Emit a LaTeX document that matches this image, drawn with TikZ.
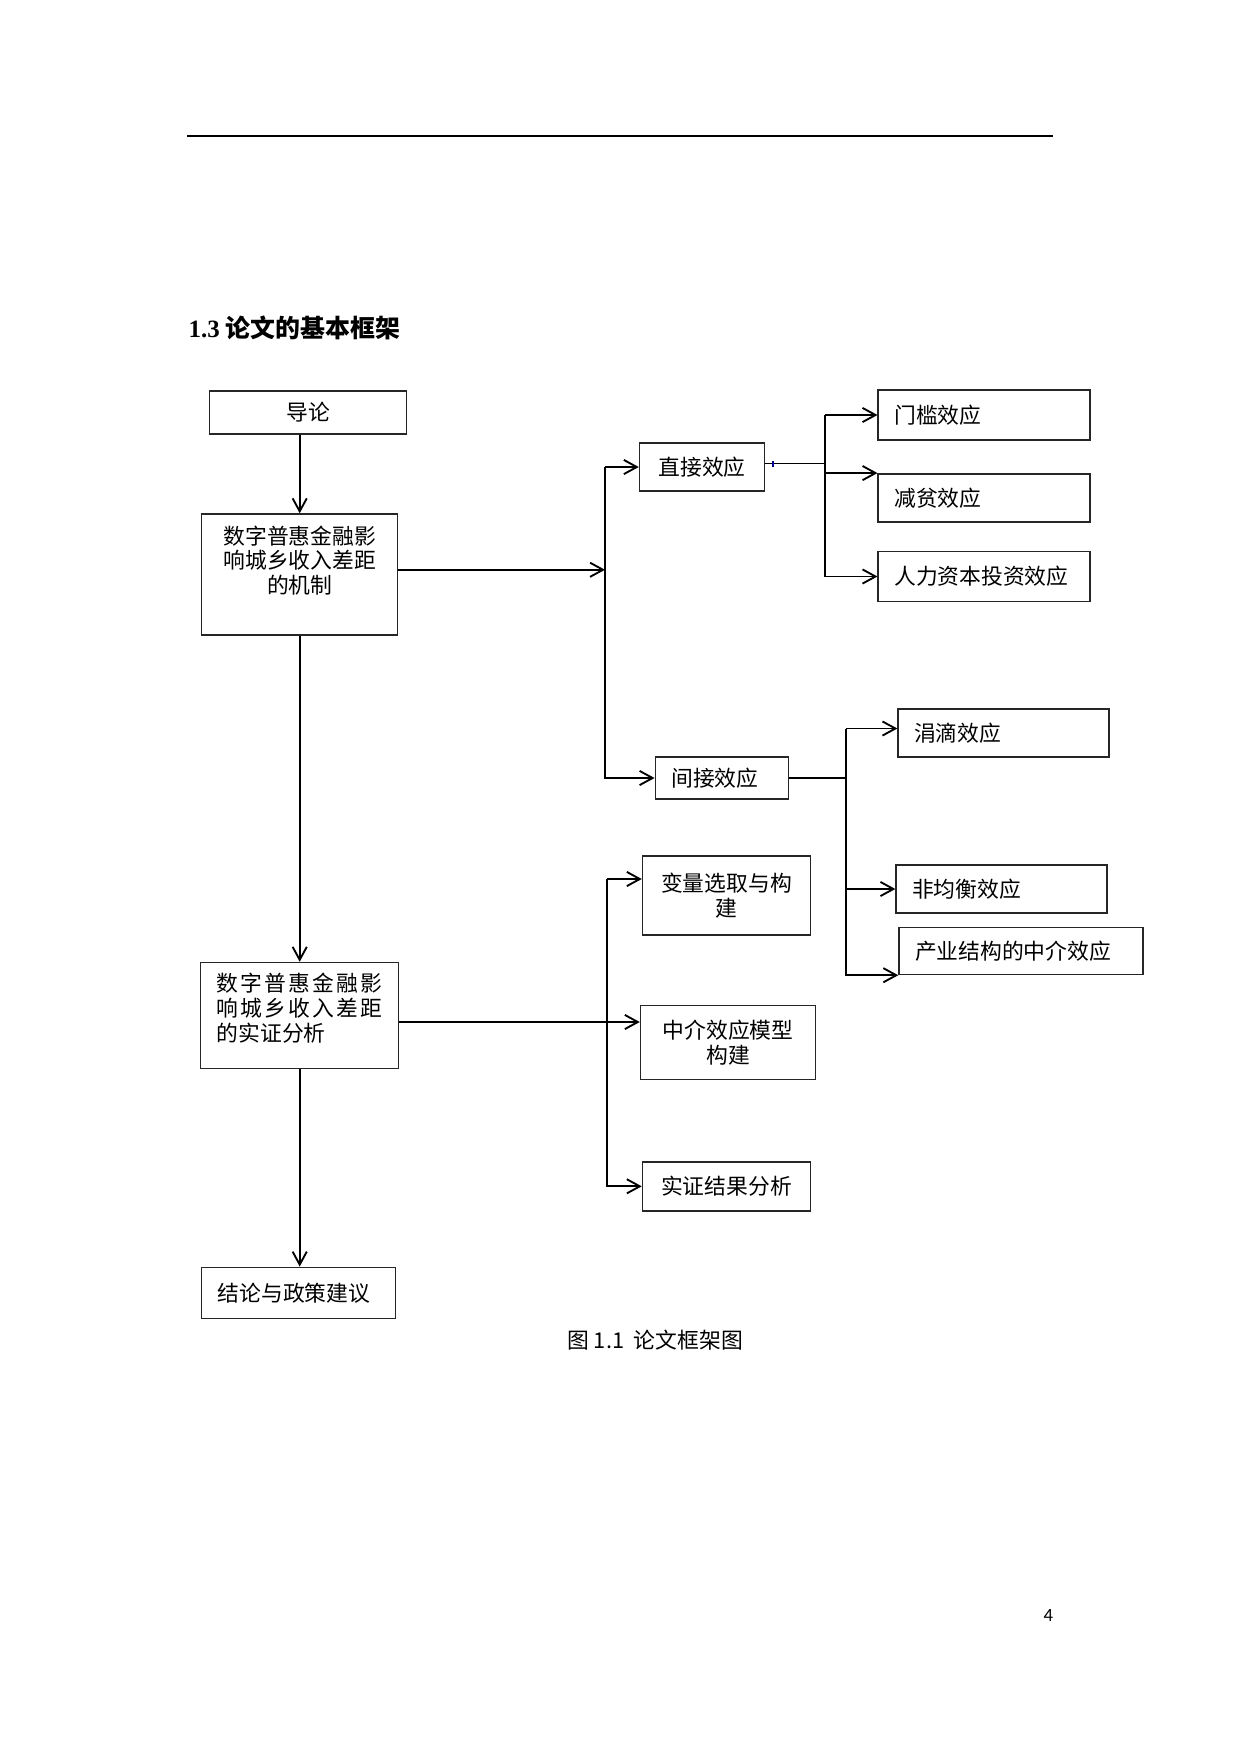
\documentclass[tikz,border=0pt]{standalone}
\usepackage{fontspec}
\setmainfont{Liberation Serif}
\newfontfamily\cjk{Noto Sans CJK SC}
\newfontfamily\pagefont{Carlito}
\usetikzlibrary{arrows.meta}
\newcommand\pxl{0.16935mm} % one pixel of the page

\begin{document}
\begin{tikzpicture}[x=0.16935mm, y=-0.16935mm, font=\cjk\fontsize{10.5pt}{12pt}\selectfont]
    \tikzset{
        boxline/.style={draw=black!85, line width=0.7pt},
        cbox/.style 2 args={boxline, inner sep=0pt, align=center,
                            minimum width=#1*\pxl, minimum height=#2*\pxl},
        lbox/.style 2 args={boxline, inner xsep=2.71mm, inner ysep=0pt,
                            /utils/exec={\pgfmathsetlengthmacro\lboxw{(#1-32)*\pxl}},
                            text width=\lboxw, align=left, minimum height=#2*\pxl},
        arr/.style={-{Straight Barb[length=2.2mm, width=2.4mm]}, line width=0.9pt},
        conn/.style={line width=0.9pt}
    }
    \useasboundingbox (0,0) rectangle (1240,1754);

    % page head and title
    \draw[line width=0.9pt] (187.2,136.4) -- (1053.3,136.4);
    \node[anchor=west, inner sep=0pt, font=\fontsize{12pt}{14pt}\selectfont\bfseries] (title)
        at (188.2,327.6) {1.3 {\cjk 论文的基本框架}};

    % main column
    \node[cbox={197}{43}] (daolun) at (308.1,412.5) {导论};
    \node[boxline, inner sep=0pt, text width=33.19mm, align=center,
          text height=5.08mm, text depth=15.41mm] (jizhi) at (299.7,574.5)
          {数字普惠金融影\\响城乡收入差距\\的机制};
    \node[boxline, inner xsep=2.71mm, inner ysep=0pt, text width=28.11mm, align=left,
          text height=4.91mm, text depth=13.04mm] (shizheng) at (299.7,1015.5)
          {\makebox[\linewidth][s]{数\hfil 字\hfil 普\hfil 惠\hfil 金\hfil 融\hfil 影}\\
           \makebox[\linewidth][s]{响\hfil 城\hfil 乡\hfil 收\hfil 入\hfil 差\hfil 距}\\
           的实证分析};

    % middle and right boxes
    \node[cbox={125}{48}] (zhijie) at (702,467) {直接效应};
    \node[cbox={168}{79}] (bianliang) at (726.5,895.5) {变量选取与构\\建};
    \node[cbox={175}{74}] (zhongjie) at (728,1042.4) {中介效应模型\\构建};
    \node[cbox={168}{49}] (jieguo) at (726.5,1186.3) {实证结果分析};
    \foreach \name/\cx/\cy/\w/\h/\txt in {
        menkan/984.2/415/212/50/门槛效应,
        jianpin/984.2/497.8/212/48/减贫效应,
        renli/984.2/576.5/212/50/人力资本投资效应,
        dishui/1003.6/733/211/48/涓滴效应,
        feijunheng/1001.6/889/211/48/非均衡效应,
        chanye/1021/951/244/47/产业结构的中介效应,
        jianjie/721.8/778/133/42/间接效应,
        jielun/298.7/1292.8/194/51/结论与政策建议}
        \node[lbox={\w}{\h}] (\name) at (\cx,\cy) {\txt};

    % branch lines
    \coordinate (t1) at (605,467);
    \coordinate (t2) at (825,415);
    \coordinate (t3) at (845.8,728.5);
    \coordinate (t4) at (606.8,879);

    \draw[arr] (daolun.south -| jizhi.north) -- (jizhi.north);
    \draw[arr] (jizhi.south) -- (shizheng.north);
    \draw[arr] (shizheng.south) -- (shizheng.south |- jielun.north);

    \draw[arr] ([yshift=0.8mm]jizhi.east) -- ([yshift=0.8mm]jizhi.east -| t1);
    \draw[arr] (t1 |- zhijie.west) -- (zhijie.west);
    \draw[arr] (t1 |- zhijie.west) |- (jianjie.west);

    \draw[conn] ([yshift=0.6mm]zhijie.east) -- ([yshift=0.6mm]zhijie.east -| t2);
    \draw[blue!60!black, line width=0.5pt] (773,461) -- (773,467);
    \draw[arr] (t2) -- (t2 -| menkan.west);
    \draw[arr] (t2 |- jianpin.north west) -- (jianpin.north west);
    \draw[arr] (t2) |- (renli.west);

    \draw[conn] (jianjie.east) -- (jianjie.east -| t3);
    \draw[arr] (t3) -- (t3 -| dishui.west);
    \draw[arr] (t3 |- feijunheng.west) -- (feijunheng.west);
    \draw[arr] (t3) |- (chanye.south west);

    \draw[arr] ([yshift=-1.1mm]shizheng.east) -- ([yshift=-1.1mm]shizheng.east -| zhongjie.west);
    \draw[arr] (t4) -- (t4 -| bianliang.west);
    \draw[arr] (t4) |- (jieguo.west);

    % caption and page number
    \node (caption) at (655.1,1340.1) {图 1.1\ \ 论文框架图};
    \node[font=\pagefont\fontsize{9pt}{11pt}\selectfont] (pagenum) at (1048.4,1615.9) {4};
\end{tikzpicture}
\end{document}
